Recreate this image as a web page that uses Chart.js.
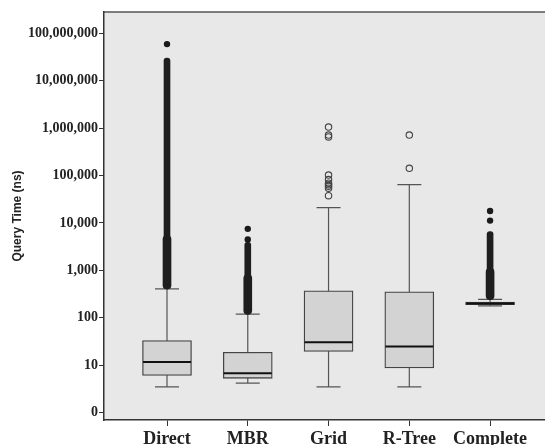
<!DOCTYPE html>
<html>
<head>
<meta charset="utf-8">
<script src="https://cdn.jsdelivr.net/npm/chart.js@4"></script>
<style>
  body { margin: 0; background: #fff; }
</style>
</head>
<body>
<canvas id="boxChart" width="545" height="445"></canvas>
<script>
var categories  = ['Direct', 'MBR', 'Grid', 'R-Tree', 'Complete'];
var whiskerLow  = [3.5, 4.2, 3.5, 3.5, 178];
var q1          = [6.1, 5.3, 19.5, 8.8, 188];
var medians     = [11.7, 6.8, 30.4, 24.9, 201];
var q3          = [33, 18.8, 370, 352, 215];
var whiskerHigh = [407, 119, 21000, 64000, 245];

// dense runs of outliers, drawn as a solid column from the whisker up
var denseTop     = [3e7, 3900, null, null, 6600];
var denseWideTop = [5400, 810, null, null, 1100];

var filledOutliers = [[5.9e7], [4470, 7500], [], [], [11200, 17800]];
var openOutliers   = [[], [],
    [1.05e6, 7.1e5, 6.5e5, 1.02e5, 8.2e4, 6.9e4, 6.4e4, 5.9e4, 5.4e4, 3.75e4],
    [7.1e5, 1.42e5], []];

var yTicks      = [1, 10, 100, 1000, 10000, 100000, 1000000, 10000000, 100000000];
var yTickLabels = ['0', '10', '100', '1,000', '10,000', '100,000', '1,000,000', '10,000,000', '100,000,000'];

function ranges(tops) {
    var out = [];
    for (var i = 0; i < tops.length; i++) {
        if (tops[i] != null) out.push({x: i + 1, y: [whiskerHigh[i], tops[i]]});
    }
    return out;
}

function points(list) {
    var out = [];
    for (var i = 0; i < list.length; i++) {
        for (var j = 0; j < list[i].length; j++) out.push({x: i + 1, y: list[i][j]});
    }
    return out;
}

var boxes = [];
for (var i = 0; i < categories.length; i++) boxes.push({x: i + 1, y: [q1[i], q3[i]]});

var boxPlugin = {
    id: 'boxParts',
    beforeDraw: function(chart) {
        var a = chart.chartArea, ctx = chart.ctx;
        ctx.save();
        ctx.fillStyle = '#e8e8e8';
        ctx.fillRect(a.left, a.top, a.right - a.left, a.bottom - a.top);
        ctx.strokeStyle = '#555';
        ctx.lineWidth = 1.5;
        ctx.beginPath();
        ctx.moveTo(a.left, a.top);
        ctx.lineTo(a.right, a.top);
        ctx.stroke();
        ctx.restore();
    },
    beforeDatasetsDraw: function(chart) {
        var ctx = chart.ctx, xs = chart.scales.x, ys = chart.scales.y;
        ctx.save();
        ctx.strokeStyle = '#555';
        ctx.lineWidth = 1.2;
        for (var i = 0; i < categories.length; i++) {
            var x = xs.getPixelForValue(i + 1);
            var lo = ys.getPixelForValue(whiskerLow[i]);
            var hi = ys.getPixelForValue(whiskerHigh[i]);
            ctx.beginPath();
            ctx.moveTo(x, lo); ctx.lineTo(x, hi);
            ctx.moveTo(x - 12, lo); ctx.lineTo(x + 12, lo);
            ctx.moveTo(x - 12, hi); ctx.lineTo(x + 12, hi);
            ctx.stroke();
        }
        ctx.restore();
    },
    afterDatasetsDraw: function(chart) {
        var ctx = chart.ctx, xs = chart.scales.x, ys = chart.scales.y;
        ctx.save();
        ctx.strokeStyle = '#111';
        ctx.lineWidth = 2;
        for (var i = 0; i < categories.length; i++) {
            var x = xs.getPixelForValue(i + 1);
            var m = ys.getPixelForValue(medians[i]);
            ctx.beginPath();
            ctx.moveTo(x - 24, m); ctx.lineTo(x + 24, m);
            ctx.stroke();
        }
        ctx.restore();
    }
};

var tickFont = {family: 'Liberation Serif', weight: 'bold'};

new Chart(document.getElementById('boxChart').getContext('2d'), {
    type: 'bar',
    data: {
        datasets: [
            {
                type: 'scatter', data: points(filledOutliers),
                pointRadius: 3.2, backgroundColor: '#1a1a1a', borderWidth: 0
            },
            {
                type: 'scatter', data: points(openOutliers),
                pointRadius: 3.2, backgroundColor: 'rgba(0,0,0,0)',
                borderColor: '#444', borderWidth: 1.1
            },
            {
                data: ranges(denseWideTop), grouped: false, barThickness: 8,
                backgroundColor: '#1e1e1e', borderRadius: 4, borderSkipped: false
            },
            {
                data: ranges(denseTop), grouped: false, barThickness: 6,
                backgroundColor: '#1e1e1e', borderRadius: 3, borderSkipped: false
            },
            {
                data: boxes, grouped: false, barThickness: 49,
                backgroundColor: '#d3d3d3', borderColor: '#444',
                borderWidth: 1.3, borderSkipped: false
            }
        ]
    },
    options: {
        responsive: false,
        devicePixelRatio: 1,
        animation: false,
        layout: {autoPadding: false, padding: {top: 12, right: 0, left: 0, bottom: -1}},
        plugins: {legend: {display: false}, tooltip: {enabled: false}},
        scales: {
            x: {
                type: 'linear', min: 0.22, max: 5.68, offset: false,
                afterBuildTicks: function(s) {
                    s.ticks = categories.map(function(c, i) { return {value: i + 1}; });
                },
                afterFit: function(s) {
                    s.height = 26;
                    s.paddingLeft = 0;
                    s.paddingRight = 0;
                },
                ticks: {
                    callback: function(v) { return categories[v - 1]; },
                    font: Object.assign({size: 18, lineHeight: 1}, tickFont),
                    color: '#222', padding: 4, maxRotation: 0, autoSkip: false
                },
                grid: {drawOnChartArea: false, offset: false, tickLength: 6, color: '#333'},
                border: {color: '#333', width: 1.5}
            },
            y: {
                type: 'logarithmic', min: 0.71, max: 2.8e8,
                afterBuildTicks: function(s) {
                    s.ticks = yTicks.map(function(v) { return {value: v}; });
                },
                afterFit: function(s) { s.width = 104; },
                ticks: {
                    callback: function(v, i) { return yTickLabels[i]; },
                    font: Object.assign({size: 14}, tickFont),
                    color: '#222', padding: 1, autoSkip: false
                },
                grid: {drawOnChartArea: false, tickLength: 5, color: '#333'},
                border: {color: '#333', width: 1.5},
                title: {
                    display: true, text: 'Query Time (ns)', color: '#222',
                    font: {family: 'Liberation Sans', weight: 'bold', size: 12},
                    padding: {top: 10, bottom: 0}
                }
            }
        }
    },
    plugins: [boxPlugin]
});
</script>
</body>
</html>
